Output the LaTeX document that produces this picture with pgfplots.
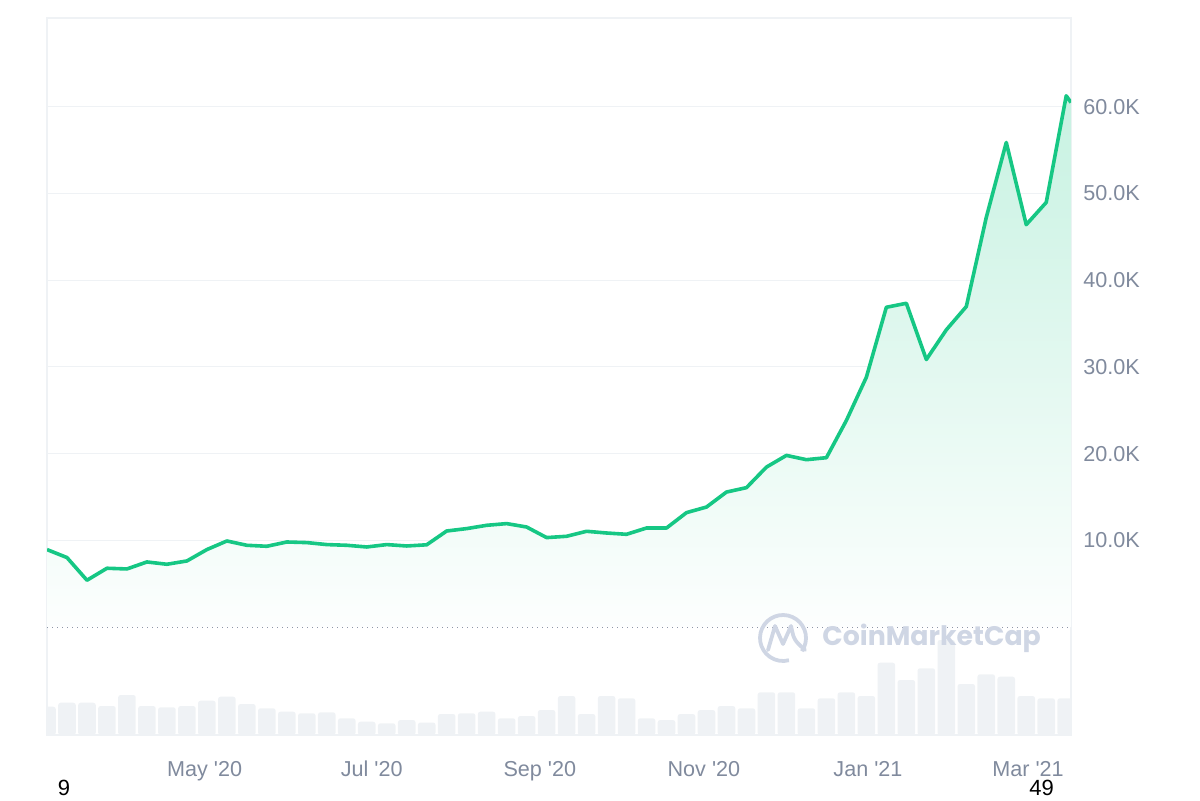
\documentclass[border=0pt]{standalone}
\usepackage{fontspec}
\setmainfont{Liberation Sans}[Ligatures=TeXOff]
\newfontfamily\wmfont{Poppins}
\usepackage{pgfplots}
\usepackage{pgfplotstable}
\pgfplotsset{compat=1.18}

\definecolor{cmcgreen}{HTML}{16C784}
\definecolor{gridgray}{HTML}{EFF2F5}
\definecolor{labelgray}{HTML}{808A9D}
\definecolor{volgray}{HTML}{EFF2F5}
\definecolor{wmark}{HTML}{CFD6E4}
\definecolor{zerodot}{HTML}{8E97A8}

% price (USD), roughly one point a week, Mar 2020 - Mar 2021
\pgfplotstableread{
k price
0 8928
1 8006
2 5391
3 6774
4 6693
5 7500
6 7235
7 7615
8 8928
9 9919
10 9423
11 9308
12 9803
13 9734
14 9504
15 9423
16 9228
17 9504
18 9343
19 9480
20 11071
21 11347
22 11727
23 11923
24 11531
25 10310
26 10460
27 11036
28 10840
29 10690
30 11416
31 11416
32 13190
33 13835
34 15563
35 16070
36 18443
37 19790
38 19296
39 19526
40 23823
41 28811
42 36875
43 37336
44 30850
45 34272
46 36956
47 47243
48 55884
49 46403
50 48972
51 61263
51.24 60494
}\pricetable

% volume, relative units
\pgfplotstableread{
k vol
0 28.3
1 32.3
2 32.3
3 29
4 40
5 29
6 27.7
7 29
8 34.3
9 38.3
10 31
11 26.7
12 23.3
13 21.7
14 22.7
15 16.7
16 13.3
17 11.7
18 15
19 12.5
20 21
21 21.7
22 23.3
23 16.7
24 19
25 25
26 39
27 21
28 39
29 36.7
30 16.7
31 15
32 21
33 25
34 29
35 26.7
36 42.7
37 42.7
38 26.7
39 36.7
40 42.7
41 39
42 72.3
43 55
44 66.7
45 95
46 51
47 60.7
48 58.3
49 39
50 36.7
51 36.7
}\voltable

\begin{document}
\begin{tikzpicture}[x=1bp,y=1bp]
\useasboundingbox (0,0) rectangle (600,400);

% volume bars
\begin{axis}[
  at={(23.5bp,32.5bp)}, anchor=south west,
  scale only axis, width=512bp, height=358.5bp,
  xmin=0, xmax=51.24, ymin=0, ymax=717,
  hide axis, ybar, bar width=0.88,
]
\addplot[fill=volgray, draw=none, rounded corners=1.2bp] table[x=k,y=vol]{\voltable};
\end{axis}

% price
\begin{axis}[
  at={(23.5bp,32.5bp)}, anchor=south west,
  scale only axis, width=512bp, height=358.5bp,
  xmin=0, xmax=51.24, ymin=-12460, ymax=70240,
  axis line style={draw=gridgray, line width=0.6bp},
  major tick length=0pt,
  ymajorgrids, grid style={draw=gridgray, line width=0.6bp},
  ytick={10000,20000,30000,40000,50000,60000},
  yticklabels={10.0K,20.0K,30.0K,40.0K,50.0K,60.0K},
  yticklabel pos=right,
  yticklabel style={anchor=west, inner sep=0pt, xshift=6bp,
    text=labelgray, font=\fontsize{10.8bp}{13bp}\selectfont},
  xtick={7.89,16.25,24.66,32.87,41.08,49.09},
  xticklabels={May '20,Jul '20,Sep '20,Nov '20,Jan '21,Mar '21},
  xticklabel style={anchor=base, inner sep=0pt, yshift=-20.5bp,
    text=labelgray, font=\fontsize{10.8bp}{13bp}\selectfont},
  extra y ticks={0}, extra y tick labels={},
  extra y tick style={grid=major,
    major grid style={draw=zerodot, line width=0.7bp, dash pattern=on 0.7bp off 1.8bp}},
]
\addplot[draw=none, top color=cmcgreen!24!white, bottom color=cmcgreen!1!white]
  table[x=k,y=price]{\pricetable} \closedcycle;
\addplot[cmcgreen, line width=1.8bp, line join=round] table[x=k,y=price]{\pricetable};
\end{axis}

% watermark
\draw[wmark, line width=1.9bp] (391.5,81) ++(-35:11.5) arc(-35:285:11.5);
\draw[wmark, line width=1.9bp, line join=round, line cap=round]
  (384,75) -- (387.5,87) -- (391.5,78) -- (395.5,87) .. controls (397,80) .. (402.5,75);
\node[anchor=west, inner sep=0pt, text=wmark, font=\wmfont\bfseries\fontsize{13.4bp}{16bp}\selectfont]
  at (411,81) {CoinMarketCap};

\node[inner sep=0pt, anchor=base, font=\fontsize{11bp}{13bp}\selectfont] at (32,2.3) {9};
\node[inner sep=0pt, anchor=base, font=\fontsize{11bp}{13bp}\selectfont] at (520.75,2.3) {49};
\end{tikzpicture}
\end{document}
